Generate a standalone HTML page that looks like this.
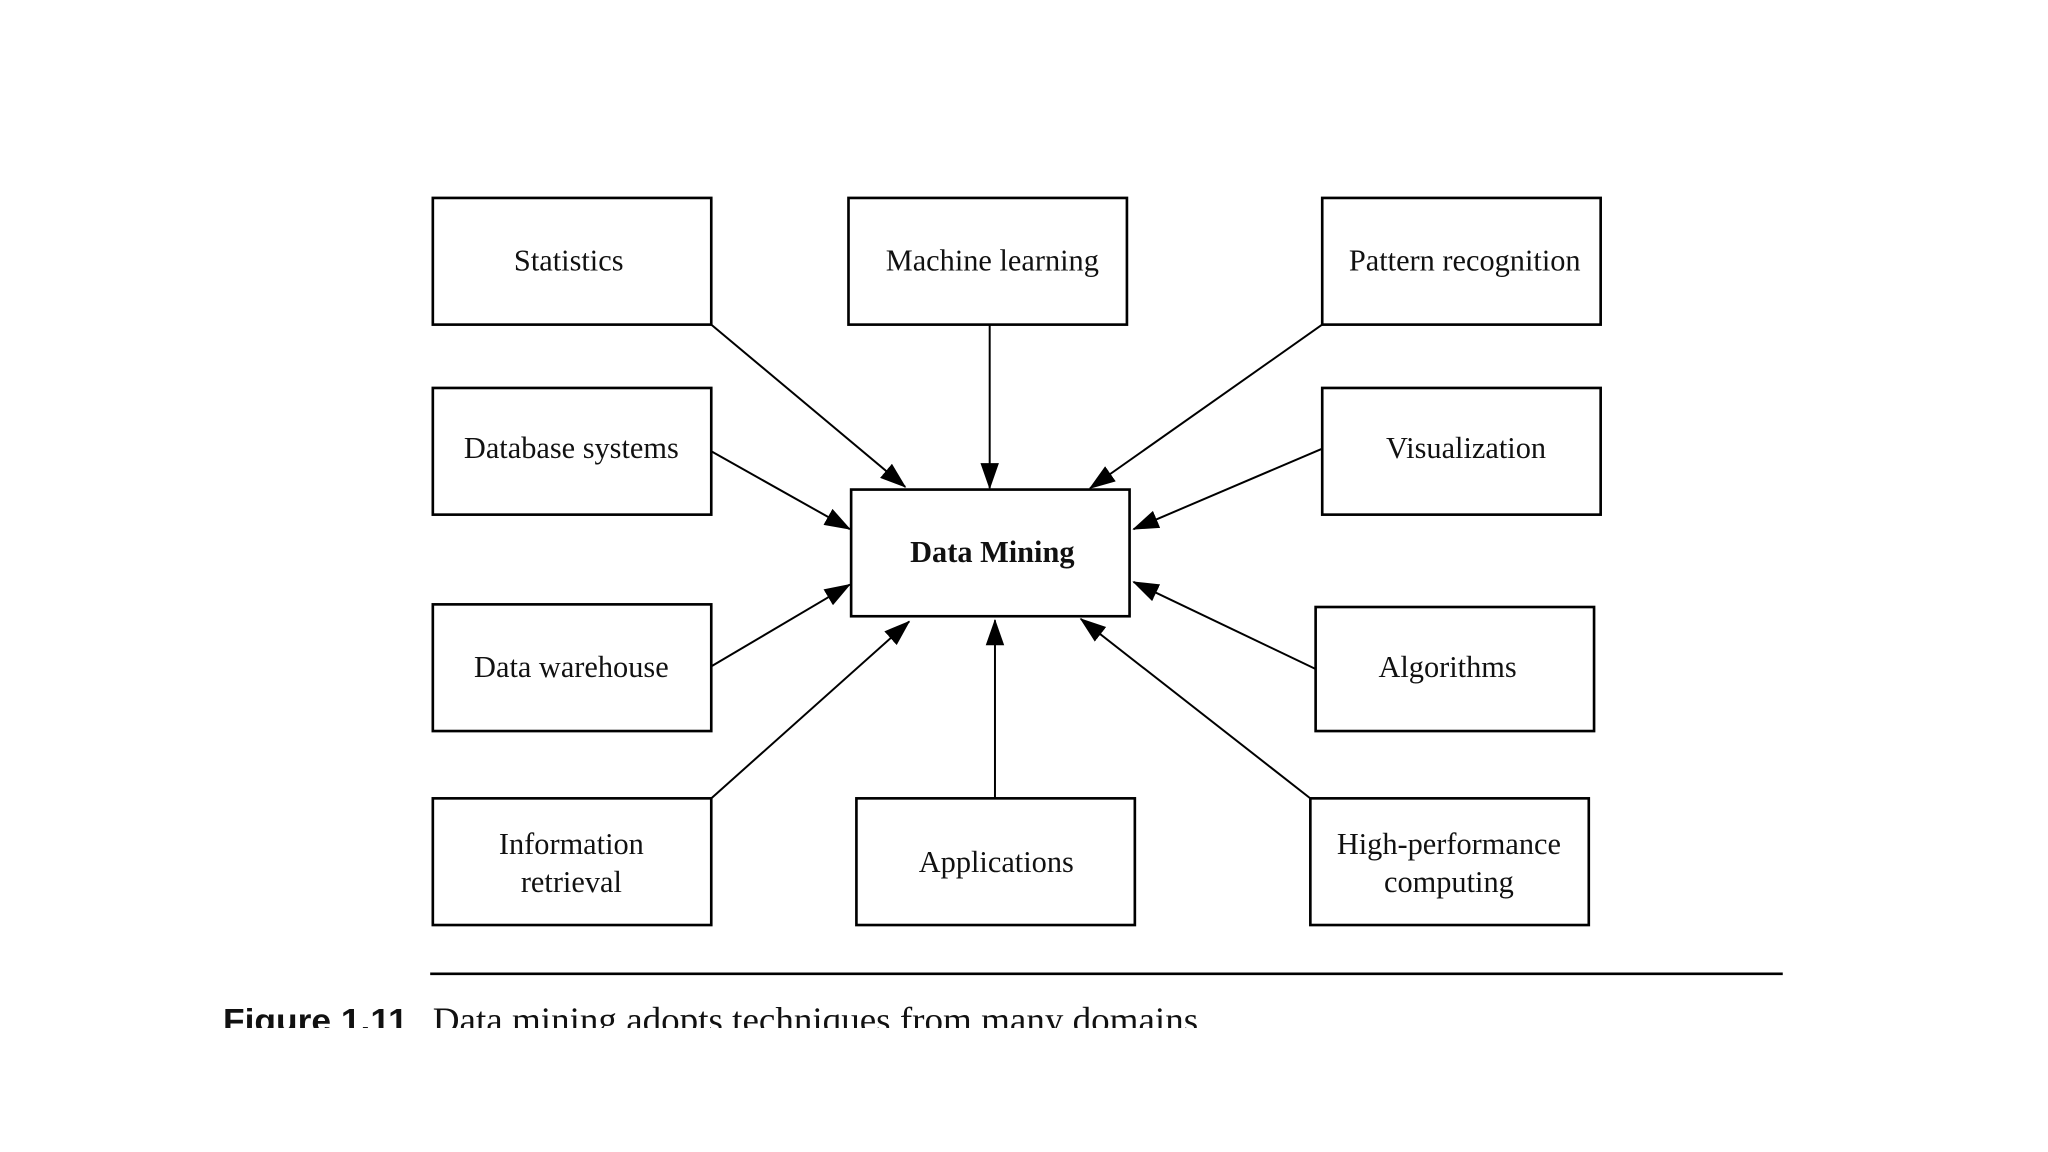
<!DOCTYPE html>
<html><head><style>html,body{margin:0;padding:0;background:#fff;}svg{display:block}</style></head>
<body>
<svg width="2048" height="1152" viewBox="0 0 1552 873" preserveAspectRatio="none" xmlns="http://www.w3.org/2000/svg">
<defs>
<marker id="b" markerWidth="20" markerHeight="20" refX="19" refY="10" orient="auto" markerUnits="userSpaceOnUse" viewBox="0 0 20 20">
<path d="M0,3 L20,10 L0,17 z" fill="#000"/></marker>
<clipPath id="c"><rect x="0" y="0" width="1552" height="779"/></clipPath>
</defs>
<rect width="1552" height="873" fill="#fff"/>
<g fill="none" stroke="#000" stroke-width="2">
<rect x="328" y="150" width="211" height="96"/>
<rect x="643" y="150" width="211" height="96"/>
<rect x="1002" y="150" width="211" height="96"/>
<rect x="328" y="294" width="211" height="96"/>
<rect x="1002" y="294" width="211" height="96"/>
<rect x="645" y="371" width="211" height="96"/>
<rect x="328" y="458" width="211" height="96"/>
<rect x="997" y="460" width="211" height="94"/>
<rect x="328" y="605" width="211" height="96"/>
<rect x="649" y="605" width="211" height="96"/>
<rect x="993" y="605" width="211" height="96"/>
</g>
<g stroke="#000" stroke-width="1.5" marker-end="url(#b)">
<line x1="539" y1="246" x2="686" y2="369"/>
<line x1="750" y1="246" x2="750" y2="370"/>
<line x1="1002" y1="246" x2="826" y2="370"/>
<line x1="539" y1="342" x2="644" y2="401"/>
<line x1="1002" y1="340" x2="859" y2="401"/>
<line x1="539" y1="505" x2="644" y2="443"/>
<line x1="997" y1="507" x2="859" y2="441"/>
<line x1="539" y1="605" x2="689" y2="471"/>
<line x1="754" y1="605" x2="754" y2="470"/>
<line x1="993" y1="605" x2="819" y2="469"/>
</g>
<g font-family="Liberation Serif, serif" font-size="23" text-anchor="middle" fill="#111">
<text x="431" y="205">Statistics</text>
<text x="752" y="205">Machine learning</text>
<text x="1110" y="205">Pattern recognition</text>
<text x="433" y="347">Database systems</text>
<text x="1111" y="347">Visualization</text>
<text x="752" y="426" font-weight="bold">Data Mining</text>
<text x="433" y="513">Data warehouse</text>
<text x="1097" y="513">Algorithms</text>
<text x="433" y="647">Information</text>
<text x="433" y="676">retrieval</text>
<text x="755" y="661">Applications</text>
<text x="1098" y="647">High-performance</text>
<text x="1098" y="676">computing</text>
</g>
<line x1="326" y1="738" x2="1351" y2="738" stroke="#000" stroke-width="2"/>
<g clip-path="url(#c)" fill="#111">
<text x="169" y="782" font-family="Liberation Sans, sans-serif" font-weight="bold" font-size="25" textLength="140" lengthAdjust="spacingAndGlyphs">Figure 1.11</text>
<text x="328" y="782" font-family="Liberation Serif, serif" font-size="27" textLength="587" lengthAdjust="spacingAndGlyphs">Data mining adopts techniques from many domains.</text>
</g>
</svg>
</body></html>
